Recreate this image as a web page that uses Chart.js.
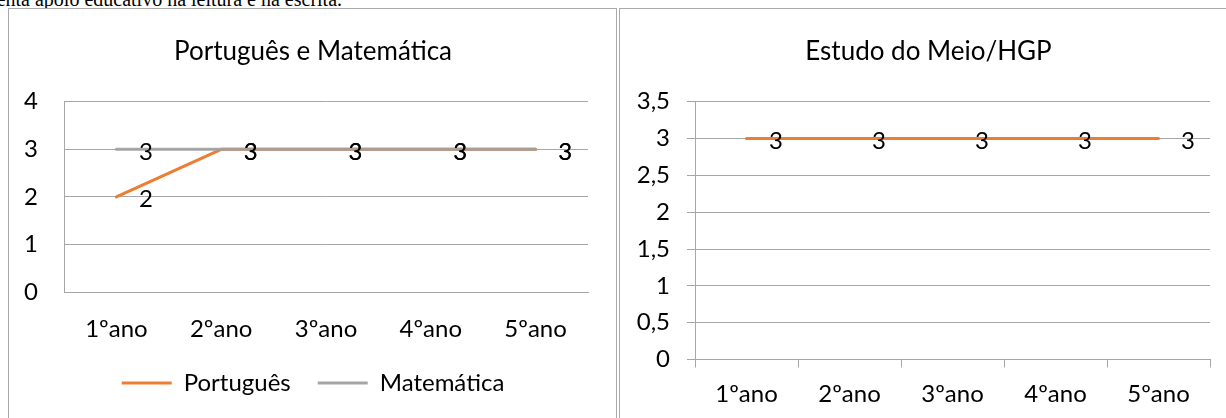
<!DOCTYPE html>
<html>
<head>
<meta charset="utf-8">
<script src="https://cdn.jsdelivr.net/npm/chart.js@4.4.1/dist/chart.umd.min.js"></script>
<style>
  html, body { margin: 0; padding: 0; background: #fff; }
  body { width: 1226px; height: 418px; overflow: hidden; position: relative; }
  .caption {
    position: absolute; left: -50px; top: -11px;
    font-family: "Liberation Serif", serif; font-size: 20px; line-height: 20px;
    white-space: nowrap; color: #000;
  }
  .frame { position: absolute; box-sizing: border-box; border: 1.5px solid #a9a9a9; background: #fff; }
  #frameL { left: 7.5px; top: 8px; width: 609px; height: 440px; }
  #frameR { left: 618.5px; top: 8px; width: 700px; height: 440px; }
  canvas { position: absolute; }
  #chartL { left: 10px; top: 10px; }
  #chartR { left: 620px; top: 10px; }
</style>
</head>
<body>
<div class="caption">Frequenta apoio educativo na leitura e na escrita.</div>
<div class="frame" id="frameL"></div>
<div class="frame" id="frameR"></div>
<canvas id="chartL" width="604" height="408"></canvas>
<canvas id="chartR" width="618" height="408"></canvas>
<script>
// School years shown on both charts
const categories = ['1ºano', '2ºano', '3ºano', '4ºano', '5ºano'];

// Levels per subject
const portugues = [2, 3, 3, 3, 3];
const matematica = [3, 3, 3, 3, 3];
const estudoMeio = [3, 3, 3, 3, 3];

// Value-axis tick labels (comma decimals)
const yTicksLeft = ['0', '1', '2', '3', '4'];
const yTicksRight = ['0', '0,5', '1', '1,5', '2', '2,5', '3', '3,5'];

const FONT = 'Lato';
const GRID = '#a6a6a6';
const ORANGE = '#ED7D31';
const GREY = 'rgba(160,160,160,0.9)';
const tickFont = { family: FONT, size: 24 };
const catFont = { family: FONT, size: 24, lineHeight: 1 };

// Writes each point's value just to the right of the point
const valueLabels = {
  id: 'valueLabels',
  afterDatasetsDraw(chart, args, opts) {
    const ctx = chart.ctx;
    ctx.save();
    ctx.font = `${opts.size}px ${opts.family}`;
    ctx.fillStyle = '#000';
    ctx.textAlign = 'center';
    ctx.textBaseline = 'middle';
    chart.data.datasets.forEach((ds, i) => {
      const meta = chart.getDatasetMeta(i);
      meta.data.forEach((pt, j) => {
        ctx.fillText(String(ds.data[j]).replace('.', ','), pt.x + opts.dx, pt.y + opts.dy);
      });
    });
    ctx.restore();
  }
};

const lineElements = {
  point: { radius: 0, hoverRadius: 0 },
  line: { tension: 0, borderCapStyle: 'round', borderJoinStyle: 'round' }
};

const titleOpts = (text) => ({
  display: true,
  text,
  color: '#000',
  font: { family: FONT, size: 26, weight: 'normal' },
  padding: { top: 25.9, bottom: 34.6 }
});

// Empty strip on the right of the plot so the title and legend centre on the whole frame
const rightGap = (w) => ({
  type: 'linear',
  position: 'right',
  display: true,
  grid: { display: false },
  border: { display: false },
  ticks: { display: false },
  afterFit(s) { s.width = w; }
});

// Português e Matemática
new Chart(document.getElementById('chartL'), {
  type: 'line',
  data: {
    labels: categories,
    datasets: [
      { label: 'Português', data: portugues, borderColor: ORANGE, backgroundColor: ORANGE, borderWidth: 3, order: 1 },
      { label: 'Matemática', data: matematica, borderColor: GREY, backgroundColor: '#A5A5A5', borderWidth: 3, order: 0 }
    ]
  },
  options: {
    responsive: false,
    animation: false,
    events: [],
    elements: lineElements,
    layout: { padding: { left: 14, right: 12, top: 0, bottom: 13 } },
    scales: {
      x: {
        offset: true,
        grid: { display: false, drawTicks: false },
        border: { display: true, color: GRID, width: 1 },
        ticks: { font: catFont, color: '#000', padding: 25, maxRotation: 0, autoSkip: false },
        afterFit(s) { s.height = 52; }
      },
      y: {
        min: 0, max: 4,
        grid: { color: GRID, drawTicks: false },
        border: { display: true, color: GRID, width: 1 },
        ticks: { stepSize: 1, font: tickFont, color: '#000', padding: 26, callback: (v, i) => yTicksLeft[i] },
        afterFit(s) { s.width = 40; }
      },
      gap: rightGap(14)
    },
    plugins: {
      title: titleOpts('Português e Matemática'),
      legend: {
        position: 'bottom',
        labels: {
          font: tickFont,
          color: '#000',
          boxWidth: 50,
          boxHeight: 3,
          padding: 27,
          sort: (a, b) => a.datasetIndex - b.datasetIndex,
          generateLabels(chart) {
            return Chart.defaults.plugins.legend.labels.generateLabels(chart).map(item => {
              const ds = chart.data.datasets[item.datasetIndex];
              return Object.assign(item, { fillStyle: ds.backgroundColor, lineWidth: 0 });
            });
          }
        }
      },
      tooltip: { enabled: false },
      valueLabels: { family: FONT, size: 24, dx: 29.5, dy: 2.5 }
    }
  },
  plugins: [valueLabels]
});

// Estudo do Meio/HGP
new Chart(document.getElementById('chartR'), {
  type: 'line',
  data: {
    labels: categories,
    datasets: [
      { label: 'Estudo do Meio/HGP', data: estudoMeio, borderColor: ORANGE, backgroundColor: ORANGE, borderWidth: 3 }
    ]
  },
  options: {
    responsive: false,
    animation: false,
    events: [],
    elements: lineElements,
    layout: { padding: { left: 14, right: 15, top: 0, bottom: 0 } },
    scales: {
      x: {
        offset: true,
        grid: { display: true, offset: true, drawOnChartArea: false, drawTicks: true, tickLength: 8, color: GRID },
        border: { display: true, color: GRID, width: 1 },
        ticks: { font: tickFont, color: '#000', padding: 12.1, maxRotation: 0, autoSkip: false },
        afterFit(s) { s.height = 58.5; }
      },
      y: {
        min: 0, max: 3.5,
        grid: { color: GRID, drawTicks: true, tickLength: 8 },
        border: { display: true, color: GRID, width: 1 },
        ticks: { stepSize: 0.5, font: tickFont, color: '#000', padding: 17, callback: (v, i) => yTicksRight[i] },
        afterFit(s) { s.width = 61; }
      },
      gap: rightGap(13)
    },
    plugins: {
      title: titleOpts('Estudo do Meio/HGP'),
      legend: { display: false },
      tooltip: { enabled: false },
      valueLabels: { family: FONT, size: 24, dx: 29.5, dy: 2.5 }
    }
  },
  plugins: [valueLabels]
});
</script>
</body>
</html>
